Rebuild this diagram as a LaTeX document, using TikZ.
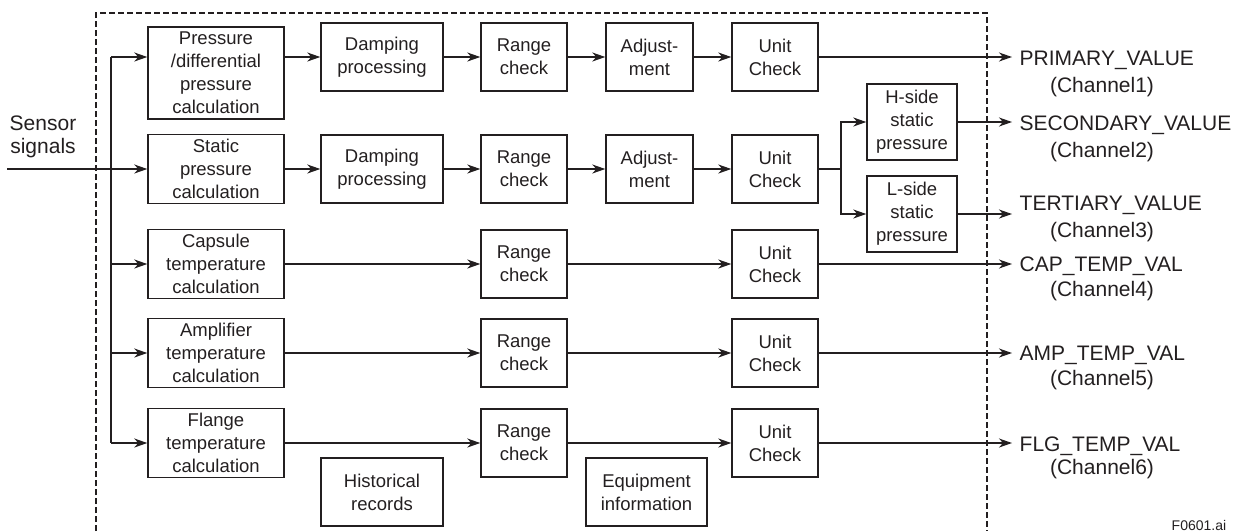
\documentclass[tikz,border=0pt]{standalone}
\usepackage{fontspec}
\setmainfont{Liberation Sans}
\usetikzlibrary{arrows.meta}
\definecolor{ink}{RGB}{35,31,32}

\begin{document}
\begin{tikzpicture}[x=1pt, y=-1pt, line width=1.4pt, color=ink]
  \tikzstyle{blk}=[draw, align=center, inner sep=0pt, minimum height=68pt,
                   font=\fontsize{18.5}{23}\selectfont]
  \tikzstyle{arrow}=[-{Stealth[length=13pt, width=9pt, inset=4pt]}]
  \tikzstyle{lbl}=[anchor=base, inner sep=0pt, font=\fontsize{21}{25}\selectfont]
  \useasboundingbox (0, 0) rectangle (1241, 531);

  % frame of the transmitter
  \draw[line width=1.1pt, dash pattern=on 6pt off 3pt]
    (96, 531) -- (96, 13) -- (987, 13) -- (987, 531);

  \node[blk, minimum width=136pt, minimum height=92pt] (calc1) at (216, 73)
    {Pressure\\/differential\\pressure\\calculation};
  \node[blk, minimum width=136pt, minimum height=69pt] (calc2) at (216, 169)
    {Static\\pressure\\calculation};
  \node[blk, minimum width=136pt, minimum height=69pt] (calc3) at (216, 264)
    {Capsule\\temperature\\calculation};
  \node[blk, minimum width=136pt, minimum height=69pt] (calc4) at (216, 353)
    {Amplifier\\temperature\\calculation};
  \node[blk, minimum width=136pt, minimum height=69pt] (calc5) at (216, 443)
    {Flange\\temperature\\calculation};

  \node[blk, minimum width=122pt] (damp1) at (382, 57) {Damping\\processing};
  \node[blk, minimum width=122pt] (damp2) at (382, 169) {Damping\\processing};

  \node[blk, minimum width=86pt] (rng1) at (524, 57) {Range\\check};
  \node[blk, minimum width=86pt] (rng2) at (524, 169) {Range\\check};
  \node[blk, minimum width=86pt] (rng3) at (524, 264) {Range\\check};
  \node[blk, minimum width=86pt] (rng4) at (524, 353) {Range\\check};
  \node[blk, minimum width=86pt] (rng5) at (524, 443) {Range\\check};

  \node[blk, minimum width=87pt] (adj1) at (649.5, 57) {Adjust-\\ment};
  \node[blk, minimum width=87pt] (adj2) at (649.5, 169) {Adjust-\\ment};

  \node[blk, minimum width=86pt] (unit1) at (775, 57) {Unit\\Check};
  \node[blk, minimum width=86pt] (unit2) at (775, 169) {Unit\\Check};
  \node[blk, minimum width=86pt] (unit3) at (775, 264) {Unit\\Check};
  \node[blk, minimum width=86pt] (unit4) at (775, 353) {Unit\\Check};
  \node[blk, minimum width=86pt] (unit5) at (775, 443) {Unit\\Check};

  \node[blk, minimum width=90pt, minimum height=76pt] (hside) at (912, 122)
    {H-side\\static\\pressure};
  \node[blk, minimum width=90pt, minimum height=76pt] (lside) at (912, 214)
    {L-side\\static\\pressure};

  \node[blk, minimum width=122pt] (hist) at (382, 492) {Historical\\records};
  \node[blk, minimum width=121pt] (equip) at (646.5, 492) {Equipment\\information};

  % input and distribution bus
  \node[lbl, anchor=center, align=center, font=\fontsize{21}{23}\selectfont]
    (sensor) at (43, 137) {Sensor\\signals};
  \coordinate (in) at (7, 169);
  \coordinate (bus1) at (111, 57);
  \coordinate (bus5) at (111, 443);
  \coordinate (split) at (841, 169);

  \draw (bus1) -- (bus5);
  \draw[arrow] (in) -- (calc2);
  \draw[arrow] (bus1) -- (bus1 -| calc1.west);
  \foreach \r in {3, 4, 5} {%
    \draw[arrow] (bus1 |- calc\r) -- (calc\r);
  }
  \draw[arrow] (calc1.east |- damp1) -- (damp1);
  \foreach \src/\dst in {damp1/rng1, rng1/adj1, adj1/unit1,
                         calc2/damp2, damp2/rng2, rng2/adj2, adj2/unit2,
                         calc3/rng3, rng3/unit3, calc4/rng4, rng4/unit4,
                         calc5/rng5, rng5/unit5} {%
    \draw[arrow] (\src) -- (\dst);
  }
  \draw (unit2) -- (split);
  \draw[arrow] (split) |- (hside);
  \draw[arrow] (split) |- (lside);

  % outputs
  \foreach \i/\src/\y in {1/unit1/57, 2/hside/122, 3/lside/214,
                          4/unit3/264, 5/unit4/353, 6/unit5/443} {%
    \coordinate (out\i) at (1012, \y);
    \draw[arrow] (\src) -- (out\i);
  }
  \foreach \i/\name/\y/\yy in {1/PRIMARY\_VALUE/65/92, 2/SECONDARY\_VALUE/130/157,
                               3/TERTIARY\_VALUE/210/237, 4/CAP\_TEMP\_VAL/271/296,
                               5/AMP\_TEMP\_VAL/360/385, 6/FLG\_TEMP\_VAL/451/474} {%
    \node[lbl, anchor=base west] (val\i) at (1019, \y) {\name};
    \node[lbl] (ch\i) at (1102, \yy) {(Channel\i)};
  }
  \node[lbl, anchor=base west, font=\fontsize{14}{16}\selectfont] (fig) at (1171, 530)
    {F0601.ai};
\end{tikzpicture}
\end{document}
